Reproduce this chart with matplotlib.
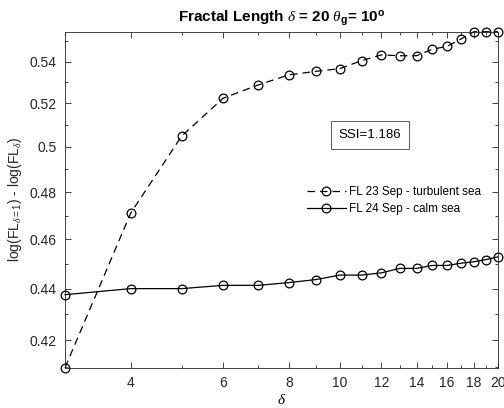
import numpy as np
import matplotlib
matplotlib.use("Agg")
import matplotlib.pyplot as plt
from matplotlib.ticker import FixedLocator, FixedFormatter, NullFormatter

# ==== DATA ====
delta = [3, 4, 5, 6, 7, 8, 9, 10, 11, 12, 13, 14, 15, 16, 17, 18, 19, 20]
fl_23sep = [0.4097, 0.4710, 0.5049, 0.5225, 0.5288, 0.5336, 0.5353, 0.5366, 0.5405,
            0.5433, 0.5429, 0.5429, 0.5461, 0.5475, 0.5511, 0.5548, 0.5548, 0.5548]
fl_24sep = [0.4376, 0.4400, 0.4400, 0.4413, 0.4413, 0.4424, 0.4436, 0.4454, 0.4454,
            0.4463, 0.4481, 0.4481, 0.4493, 0.4493, 0.4502, 0.4508, 0.4517, 0.4528]
labels = ["FL 23 Sep - turbulent sea", "FL 24 Sep - calm sea"]
ssi = 1.186

xticks = [4, 6, 8, 10, 12, 14, 16, 18, 20]
xminor = [3, 5, 7, 9, 11, 13, 15, 17, 19]
yticks = [0.42, 0.44, 0.46, 0.48, 0.50, 0.52, 0.54]
ytick_labels = ["0.42", "0.44", "0.46", "0.48", "0.5", "0.52", "0.54"]
yminor = [0.41, 0.43, 0.45, 0.47, 0.49, 0.51, 0.53, 0.55]

# ==== STYLE ====
plt.rcParams["font.family"] = ["Liberation Sans", "DejaVu Sans"]
plt.rcParams["mathtext.fontset"] = "custom"
plt.rcParams["mathtext.rm"] = "Liberation Sans"
plt.rcParams["mathtext.it"] = "Liberation Serif:italic"
plt.rcParams["mathtext.bf"] = "Liberation Sans:bold"

fig = plt.figure(figsize=(5.04, 4.08), dpi=100)
ax = fig.add_axes([0.129, 0.0988, 0.859, 0.8235])

ax.plot(delta, fl_23sep, color="black", linestyle=(0, (6, 4)), linewidth=0.9,
        marker="o", markersize=6.3, markerfacecolor="none", markeredgewidth=0.9,
        clip_on=False, label=labels[0])
ax.plot(delta, fl_24sep, color="black", linestyle="-", linewidth=0.9,
        marker="o", markersize=6.3, markerfacecolor="none", markeredgewidth=0.9,
        clip_on=False, label=labels[1])

ax.set_xscale("log")
ax.set_yscale("log")
ax.set_xlim(min(delta), max(delta))
ax.set_ylim(min(fl_23sep), max(fl_23sep))

ax.xaxis.set_major_locator(FixedLocator(xticks))
ax.xaxis.set_major_formatter(FixedFormatter([str(t) for t in xticks]))
ax.xaxis.set_minor_locator(FixedLocator(xminor))
ax.xaxis.set_minor_formatter(NullFormatter())
ax.yaxis.set_major_locator(FixedLocator(yticks))
ax.yaxis.set_major_formatter(FixedFormatter(ytick_labels))
ax.yaxis.set_minor_locator(FixedLocator(yminor))
ax.yaxis.set_minor_formatter(NullFormatter())

ax.tick_params(which="both", direction="in", top=True, right=True,
               colors="#262626", labelsize=10, width=0.6)
ax.tick_params(which="major", length=4, pad=6)
ax.tick_params(which="minor", length=2.5)
for s in ax.spines.values():
    s.set_color("#262626")
    s.set_linewidth(0.6)

ax.set_title(r"Fractal Length $\delta$ = 20 $\theta_{\mathbf{g}}$= 10$^{\mathbf{o}}$",
             fontsize=11, fontweight="bold", pad=7)
ax.set_xlabel(r"$\delta$", fontsize=11, labelpad=2)
ax.set_ylabel(r"log(FL$_{\delta=1}$) - log(FL$_{\delta}$)", fontsize=10, labelpad=4,
              color="#262626")

# SSI annotation box
ax.text(0.704, 0.693, f"SSI={ssi}", transform=ax.transAxes, fontsize=9.5,
        ha="center", va="center",
        bbox=dict(boxstyle="square,pad=0.6", facecolor="white", edgecolor="#404040",
                  linewidth=0.6))

ax.legend(loc="center left", bbox_to_anchor=(0.545, 0.497), frameon=False,
          fontsize=8.5, handlelength=3.3, handletextpad=0.3, labelspacing=0.45,
          borderpad=0)

fig.savefig("out.png", dpi=100)
